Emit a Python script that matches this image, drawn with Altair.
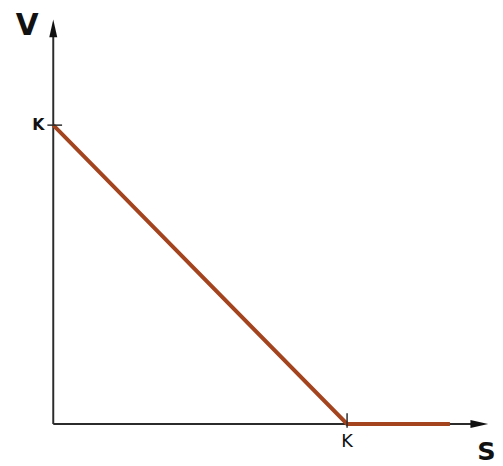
import altair as alt
import pandas as pd

# ---- data ----
payoff_s = [0, 100, 135]      # underlying price S
payoff_v = [100, 0, 0]        # put value V = max(K - S, 0)
strike = 100                  # K
tick_labels = ["K", "K"]
axis_titles = ["V", "S"]

X_MAX = 148
Y_MAX = 135

xs = alt.Scale(domain=[0, X_MAX], nice=False, zero=False)
ys = alt.Scale(domain=[0, Y_MAX], nice=False, zero=False)
AX = "#2b2b2b"
LINE = "#a3441f"
FONT = "DejaVu Sans"

payoff = pd.DataFrame({"S": payoff_s, "V": payoff_v})

axes_df = pd.DataFrame({
    "x": [0, 0], "x2": [144, 0],
    "y": [0, 0], "y2": [0, 131.5],
})
axes = alt.Chart(axes_df).mark_rule(color=AX, strokeWidth=2).encode(
    x=alt.X("x:Q", scale=xs, axis=None),
    x2="x2:Q",
    y=alt.Y("y:Q", scale=ys, axis=None),
    y2="y2:Q",
)

line = alt.Chart(payoff).mark_line(color=LINE, strokeWidth=4, strokeCap="butt").encode(
    x=alt.X("S:Q", scale=xs, axis=None),
    y=alt.Y("V:Q", scale=ys, axis=None),
)

ticks_df = pd.DataFrame({
    "x": [-2, strike], "x2": [3, strike],
    "y": [strike, -1.3], "y2": [strike, 3.6],
})
ticks = alt.Chart(ticks_df).mark_rule(color=AX, strokeWidth=1.5).encode(
    x=alt.X("x:Q", scale=xs, axis=None),
    x2="x2:Q",
    y=alt.Y("y:Q", scale=ys, axis=None),
    y2="y2:Q",
)

arrow_path = "M0,-1 L0.45,1 L-0.45,1 Z"
arrows_df = pd.DataFrame({"x": [0, 145], "y": [132.4, 0], "a": [0, 90]})
arrows = alt.Chart(arrows_df).mark_point(
    shape=arrow_path, filled=True, color="#111111", size=324, opacity=1, strokeWidth=0
).encode(
    x=alt.X("x:Q", scale=xs, axis=None),
    y=alt.Y("y:Q", scale=ys, axis=None),
    angle=alt.Angle("a:Q", scale=None),
)

ylab = alt.Chart(pd.DataFrame({"x": [0], "y": [strike], "t": [tick_labels[0]]})).mark_text(
    font=FONT, fontSize=16, fontWeight="bold", align="right", baseline="middle", dx=-9, color="#111111"
).encode(x=alt.X("x:Q", scale=xs, axis=None), y=alt.Y("y:Q", scale=ys, axis=None), text="t:N")

xlab = alt.Chart(pd.DataFrame({"x": [strike], "y": [0], "t": [tick_labels[1]]})).mark_text(
    font=FONT, fontSize=18, align="center", baseline="top", dy=9, color="#111111"
).encode(x=alt.X("x:Q", scale=xs, axis=None), y=alt.Y("y:Q", scale=ys, axis=None), text="t:N")

vtitle = alt.Chart(pd.DataFrame({"x": [-8.9], "y": [130], "t": [axis_titles[0]]})).mark_text(
    font=FONT, fontSize=30, fontWeight="bold", align="center", baseline="alphabetic", color="#111111"
).encode(x=alt.X("x:Q", scale=xs, axis=None), y=alt.Y("y:Q", scale=ys, axis=None), text="t:N")

stitle = alt.Chart(pd.DataFrame({"x": [147.4], "y": [-12.2], "t": [axis_titles[1]]})).mark_text(
    font=FONT, fontSize=26, fontWeight="bold", align="center", baseline="alphabetic", color="#111111"
).encode(x=alt.X("x:Q", scale=xs, axis=None), y=alt.Y("y:Q", scale=ys, axis=None), text="t:N")

chart = alt.layer(axes, line, ticks, arrows, ylab, xlab, vtitle, stitle).properties(
    width=442,
    height=410,
    padding={"left": 46, "top": 9, "right": 7, "bottom": 39},
    autosize=alt.AutoSizeParams(type="none"),
    background="white",
).configure_view(strokeWidth=0)

chart.save("out.html", embed_options={"renderer": "svg", "actions": False})
